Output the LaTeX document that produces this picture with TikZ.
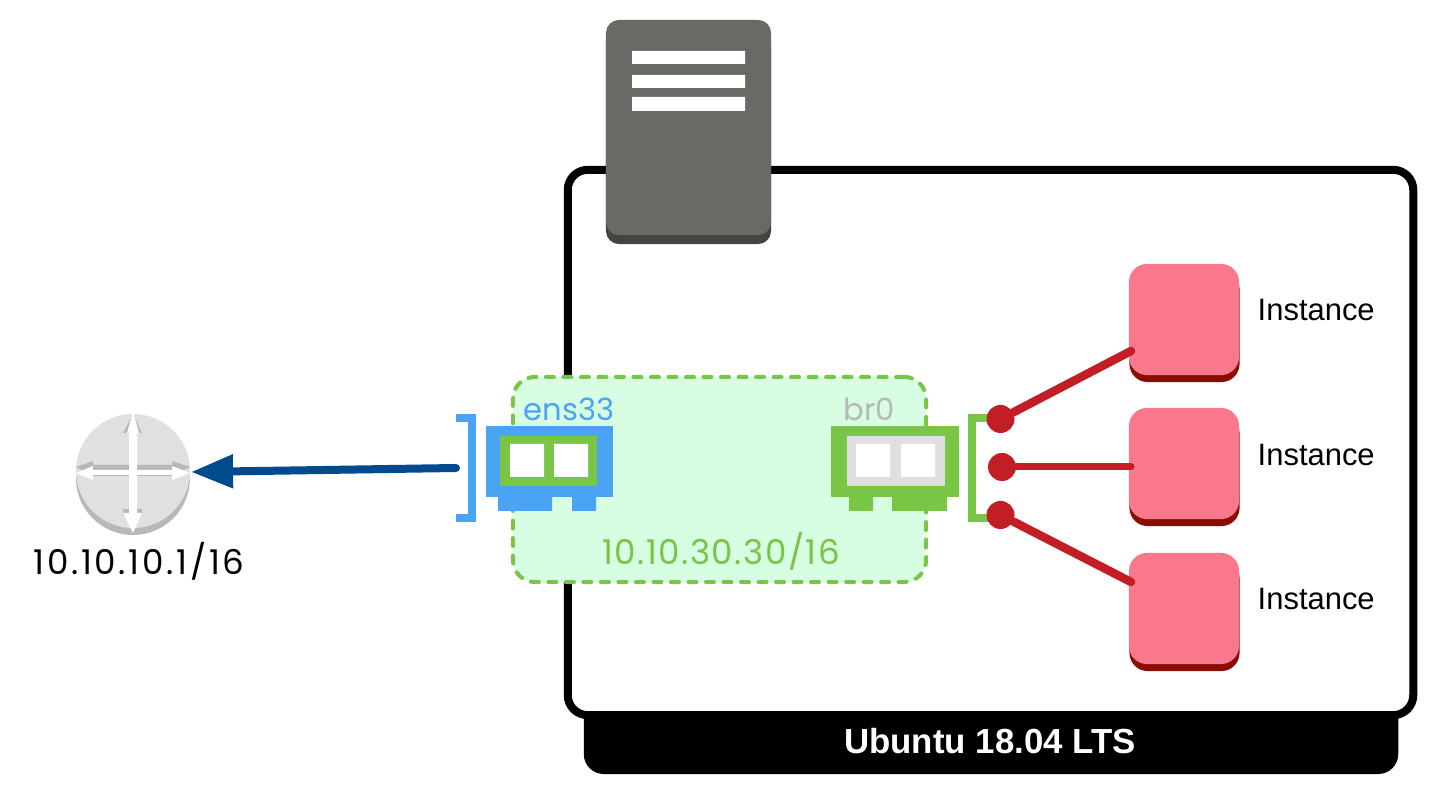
\documentclass[tikz,border=0pt]{standalone}
\usepackage{fontspec}
\setmainfont{Liberation Sans}
\newfontfamily\futfont{Poppins}
\newfontfamily\futmid[LetterSpace=4.5]{Poppins}
\newfontfamily\futwide[LetterSpace=8]{Poppins}
\usetikzlibrary{arrows.meta,positioning,calc}
\definecolor{srvtop}{HTML}{686A66}
\definecolor{srvbot}{HTML}{434541}
\definecolor{nicblue}{HTML}{4AA3F3}
\definecolor{nicgreen}{HTML}{79C545}
\definecolor{nicgray}{HTML}{DFDFDF}
\definecolor{zonefill}{HTML}{D7FDE3}
\definecolor{wirered}{HTML}{C11E26}
\definecolor{instpink}{HTML}{F9788B}
\definecolor{instdark}{HTML}{8B0C00}
\definecolor{arrblue}{HTML}{004B8D}
\definecolor{rtrtop}{HTML}{E0E0E0}
\definecolor{rtrbot}{HTML}{B8B8B8}
\begin{document}
\begin{tikzpicture}[x=0.01cm,y=-0.01cm,
 bx/.style={inner sep=0,outer sep=0,rounded corners=0.18cm,minimum width=1.1cm,minimum height=1.11cm},
 inst/.style={bx,fill=instpink},
 instb/.style={bx,fill=instdark},
 lbl/.style={font=\fontsize{8.8}{10}\selectfont,inner sep=0},
 fut/.style={font=\futfont\fontsize{8.7}{10}\selectfont,inner sep=0},
 brk/.style={line width=0.08cm},
 wire/.style={wirered,line width=0.085cm,line cap=round},
 dot/.style={circle,fill=wirered,inner sep=0,minimum size=0.28cm},
 arr/.style={-{Triangle[length=0.42cm,width=0.32cm]},arrblue,line width=0.08cm,line cap=round}]
\useasboundingbox (0,0) rectangle (1437,795);
% host
\node[fill=black,rounded corners=0.2cm,inner sep=0,minimum width=8.14cm,minimum height=1.2cm] (base) at (991,714) {};
\node[draw=black,fill=white,line width=0.08cm,rounded corners=0.2cm,inner sep=0,minimum width=8.45cm,minimum height=5.45cm] (host) at (990.5,442.5) {};
\node[font=\bfseries\fontsize{9.9}{12}\selectfont,text=white,inner sep=0] (ubuntu) at (990,741) {Ubuntu 18.04 LTS};
% server
\node[fill=srvbot,rounded corners=0.13cm,inner sep=0,minimum width=1.65cm,minimum height=2.14cm] (srvb) at (688.5,137) {};
\node[fill=srvtop,rounded corners=0.13cm,inner sep=0,minimum width=1.65cm,minimum height=2.15cm] (srv) at (688.5,127.5) {};
\fill[white] (632,51) rectangle (745,64) (632,75) rectangle (745,88) (632,97) rectangle (745,111);
% zone
\node[draw=nicgreen,fill=zonefill,line width=0.04cm,dash pattern=on 0.08cm off 0.095cm,line cap=round,rounded corners=0.22cm,inner sep=0,minimum width=4.13cm,minimum height=2.05cm] (zone) at (719.5,479.5) {};
\node[fut,text=nicblue,anchor=base west] (enslbl) at (523,421) {ens33};
\node[fut,text=rtrbot,anchor=base west] (brlbl) at (843,421) {br0};
\node[fut,text=nicgreen,font=\futmid\fontsize{9.7}{12}\selectfont] (zonelbl) at (721,551) {10.10.30.30/16};
% left nic
\node[fill=nicblue,inner sep=0,minimum width=1.27cm,minimum height=0.71cm] (ens) at (549.5,461.5) {};
\fill[nicblue] (498,497) rectangle (552,511) (572,497) rectangle (596,511);
\fill[nicgreen] (500,436) rectangle (597,486);
\fill[white] (510,444) rectangle (544,477) (554,444) rectangle (588,477);
\draw[brk,nicblue] (456,418) -- (472,418) -- (472,518) -- (456,518);
% right nic
\node[fill=nicgreen,inner sep=0,minimum width=1.28cm,minimum height=0.71cm] (br) at (895,461.5) {};
\fill[nicgreen] (849,497) rectangle (873,511) (892,497) rectangle (947,511);
\fill[nicgray] (847,436) rectangle (945,486);
\fill[white] (856,444) rectangle (890,477) (901,444) rectangle (935,477);
\draw[brk,nicgreen] (1000,418) -- (972,418) -- (972,518) -- (1000,518);
% instances
\node[instb] (ib1) at (1184.5,326.5) {};
\node[inst] (i1) at (1184,319.5) {};
\node[instb] (ib2) at (1184.5,470.5) {};
\node[inst] (i2) at (1184,463.5) {};
\node[instb] (ib3) at (1184.5,615.5) {};
\node[inst] (i3) at (1184,608.5) {};
\node[lbl,anchor=west] (t1) at (1257,310) {Instance};
\node[lbl,anchor=west] (t2) at (1257,455) {Instance};
\node[lbl,anchor=west] (t3) at (1257,599) {Instance};
\node[dot] (d1) at (1000.5,419) {};
\node[dot] (d2) at (1002,467) {};
\node[dot] (d3) at (1000.5,515) {};
\coordinate (p1) at (1131,351);
\coordinate (p2) at (1131,467);
\coordinate (p3) at (1131,582);
\draw[wire] (d1) -- (p1);
\draw[wire,line width=0.07cm] (d2) -- (p2);
\draw[wire] (d3) -- (p3);
% router
\fill[rtrbot] (133,478) circle (57);
\node[circle,fill=rtrtop,inner sep=0,minimum size=1.14cm] (rtr) at (133,471) {};
\begin{scope}
\clip (133,478) circle (57) (133,471) circle (57);
\fill[rtrbot] (76,467) -- (93,461) -- (93,465) -- (172,465) -- (172,461) -- (190,467) -- (172,476) -- (93,476) -- cycle;
\fill[rtrbot] (133,414) -- (123,433) -- (142,433) -- cycle;
\fill[rtrbot] (123,509) rectangle (142,515);
\end{scope}
\fill[white] (76,473) -- (93,466) -- (93,470) -- (172,470) -- (172,466) -- (190,473) -- (172,480) -- (172,475) -- (93,475) -- (93,480) -- cycle;
\fill[white] (133,412) -- (127,433) -- (129,433) -- (129,513) -- (123,513) -- (133,533) -- (142,513) -- (137,513) -- (137,433) -- (139,433) -- cycle;
\node[fut,font=\futwide\fontsize{9.7}{12}\selectfont] (rtrlbl) at (139,561) {10.10.10.1/16};
% uplink
\coordinate (up) at (456,468);
\coordinate (gw) at (191,472);
\draw[arr] (up) -- (gw);
\end{tikzpicture}
\end{document}
